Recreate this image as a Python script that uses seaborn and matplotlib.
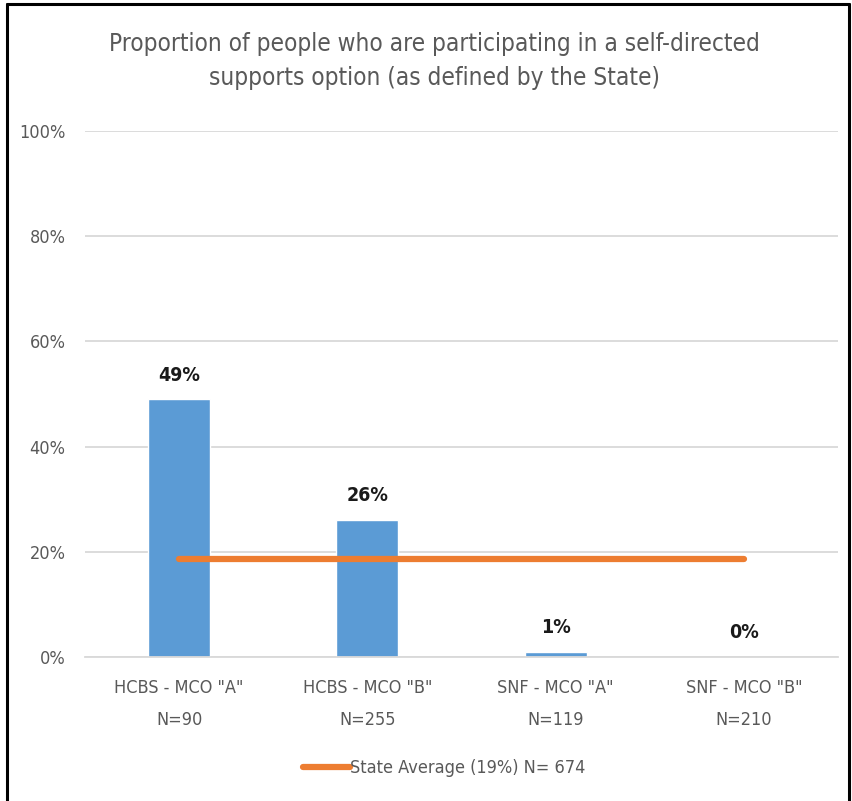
import pandas as pd
import seaborn as sns
import matplotlib.pyplot as plt
from matplotlib.lines import Line2D
from matplotlib.ticker import PercentFormatter

# Data
categories = ['HCBS - MCO "A"\nN=90', 'HCBS - MCO "B"\nN=255',
              'SNF - MCO "A"\nN=119', 'SNF - MCO "B"\nN=210']
values = [0.49, 0.26, 0.01, 0.00]
labels = ['49%', '26%', '1%', '0%']
state_avg = 0.186
state_label = 'State Average (19%) N= 674'

sns.set_style("white")
plt.rcParams['font.family'] = ['DejaVu Sans']
plt.rcParams['font.stretch'] = 'condensed'

df = pd.DataFrame({'group': categories, 'value': values})

fig = plt.figure(figsize=(8.52, 8.01), dpi=100)
ax = fig.add_axes([0.0998, 0.1798, 0.8838, 0.6567])

sns.barplot(data=df, x='group', y='value', color='#5B9BD5', width=0.33,
            saturation=1, ax=ax, zorder=2)

# state average line from first to last bar centre
ax.plot([0, len(categories) - 1], [state_avg, state_avg], color='#ED7D31',
        lw=4.5, solid_capstyle='round', zorder=3, label=state_label)

# bar labels
for i, (v, t) in enumerate(zip(values, labels)):
    ax.text(i, v + 0.028, t, ha='center', va='bottom', fontsize=14,
            fontweight='bold', color='#1a1a1a')

ax.set_ylim(0, 1)
ax.set_xlim(-0.5, len(categories) - 0.5)
ax.set_yticks([0, 0.2, 0.4, 0.6, 0.8, 1.0])
ax.yaxis.set_major_formatter(PercentFormatter(1.0, decimals=0))
ax.grid(axis='y', color='#d9d9d9', lw=1.3, zorder=0)
ax.set_axisbelow(True)
ax.set_xlabel('')
ax.set_ylabel('')
for s in ['top', 'right', 'left']:
    ax.spines[s].set_visible(False)
ax.spines['bottom'].set_color('#d9d9d9')
ax.spines['bottom'].set_linewidth(1.3)
ax.tick_params(axis='both', length=0, colors='#595959', labelsize=13)
ax.tick_params(axis='x', pad=16)
ax.tick_params(axis='y', pad=14)
for t in ax.get_xticklabels():
    t.set_linespacing(1.95)

fig.text(0.51, 0.924, 'Proportion of people who are participating in a self-directed\n'
         'supports option (as defined by the State)', ha='center', va='center',
         fontsize=17.5, color='#595959', linespacing=1.5)

fig.legend(loc='center', bbox_to_anchor=(0.521, 0.041), frameon=False,
           fontsize=13, labelcolor='#595959', handlelength=2.6, handletextpad=0)

# black frame around the chart
for xs, ys in [([0.008, 0.008], [0, 0.995]), ([0.008, 0.997], [0.995, 0.995]),
               ([0.997, 0.997], [0, 0.995])]:
    fig.add_artist(Line2D(xs, ys, color='black', lw=2.2, transform=fig.transFigure))

fig.savefig('out.png', dpi=100)
